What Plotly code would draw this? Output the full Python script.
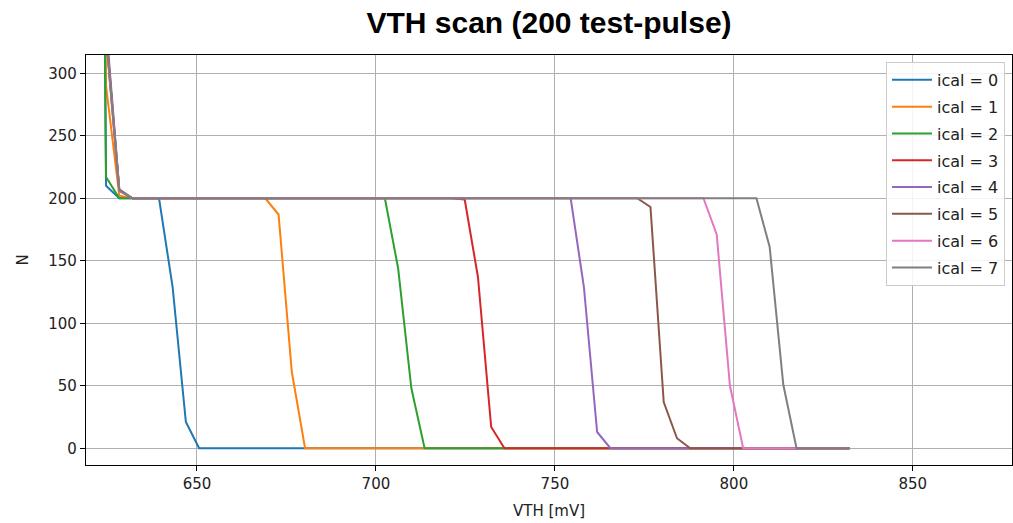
import plotly.graph_objects as go

# VTH sweep values [mV]
vth = [
    620.9, 624.6, 628.3, 632.0, 635.7, 639.4, 643.2, 646.9, 650.6, 654.3,
    658.0, 661.7, 665.4, 669.1, 672.8, 676.5, 680.2, 684.0, 687.7, 691.4,
    695.1, 698.8, 702.5, 706.2, 709.9, 713.6, 717.3, 721.0, 724.8, 728.5,
    732.2, 735.9, 739.6, 743.3, 747.0, 750.7, 754.4, 758.1, 761.8, 765.5,
    769.3, 773.0, 776.7, 780.4, 784.1, 787.8, 791.5, 795.2, 798.9, 802.6,
    806.3, 810.0, 813.8, 817.5, 821.2, 824.9, 828.6, 832.3,
]

ical_0 = [
    1500, 210, 200, 200, 200, 200, 129, 21, 0, 0,
    0, 0, 0, 0, 0, 0, 0, 0, 0, 0,
    0, 0, 0, 0, 0, 0, 0, 0, 0, 0,
    0, 0, 0, 0, 0, 0, 0, 0, 0, 0,
    0, 0, 0, 0, 0, 0, 0, 0, 0, 0,
    0, 0, 0, 0, 0, 0, 0, 0,
]
ical_1 = [
    1500, 290, 202, 200, 200, 200, 200, 200, 200, 200,
    200, 200, 200, 200, 187, 61, 0, 0, 0, 0,
    0, 0, 0, 0, 0, 0, 0, 0, 0, 0,
    0, 0, 0, 0, 0, 0, 0, 0, 0, 0,
    0, 0, 0, 0, 0, 0, 0, 0, 0, 0,
    0, 0, 0, 0, 0, 0, 0, 0,
]
ical_2 = [
    1500, 217, 200, 200, 200, 200, 200, 200, 200, 200,
    200, 200, 200, 200, 200, 200, 200, 200, 200, 200,
    200, 200, 200, 144, 48, 0, 0, 0, 0, 0,
    0, 0, 0, 0, 0, 0, 0, 0, 0, 0,
    0, 0, 0, 0, 0, 0, 0, 0, 0, 0,
    0, 0, 0, 0, 0, 0, 0, 0,
]
ical_3 = [
    1500, 330, 206, 200, 200, 200, 200, 200, 200, 200,
    200, 200, 200, 200, 200, 200, 200, 200, 200, 200,
    200, 200, 200, 200, 200, 200, 200, 200, 199, 137,
    17, 0, 0, 0, 0, 0, 0, 0, 0, 0,
    0, 0, 0, 0, 0, 0, 0, 0, 0, 0,
    0, 0, 0, 0, 0, 0, 0, 0,
]
ical_4 = [
    1500, 340, 207, 200, 200, 200, 200, 200, 200, 200,
    200, 200, 200, 200, 200, 200, 200, 200, 200, 200,
    200, 200, 200, 200, 200, 200, 200, 200, 200, 200,
    200, 200, 200, 200, 200, 200, 200, 129, 13, 0,
    0, 0, 0, 0, 0, 0, 0, 0, 0, 0,
    0, 0, 0, 0, 0, 0, 0, 0,
]
ical_5 = [
    1500, 335, 207, 200, 200, 200, 200, 200, 200, 200,
    200, 200, 200, 200, 200, 200, 200, 200, 200, 200,
    200, 200, 200, 200, 200, 200, 200, 200, 200, 200,
    200, 200, 200, 200, 200, 200, 200, 200, 200, 200,
    200, 200, 193, 37, 8, 0, 0, 0, 0, 0,
    0, 0, 0, 0, 0, 0, 0, 0,
]
ical_6 = [
    1500, 330, 206, 200, 200, 200, 200, 200, 200, 200,
    200, 200, 200, 200, 200, 200, 200, 200, 200, 200,
    200, 200, 200, 200, 200, 200, 200, 200, 200, 200,
    200, 200, 200, 200, 200, 200, 200, 200, 200, 200,
    200, 200, 200, 200, 200, 200, 200, 171, 50, 0,
    0, 0, 0, 0, 0, 0, 0, 0,
]
ical_7 = [
    1500, 330, 206, 200, 200, 200, 200, 200, 200, 200,
    200, 200, 200, 200, 200, 200, 200, 200, 200, 200,
    200, 200, 200, 200, 200, 200, 200, 200, 200, 200,
    200, 200, 200, 200, 200, 200, 200, 200, 200, 200,
    200, 200, 200, 200, 200, 200, 200, 200, 200, 200,
    200, 161, 51, 0, 0, 0, 0, 0,
]

series = [ical_0, ical_1, ical_2, ical_3, ical_4, ical_5, ical_6, ical_7]
names = [f"ical = {i}" for i in range(8)]
colors = ["#1f77b4", "#ff7f0e", "#2ca02c", "#d62728",
          "#9467bd", "#8c564b", "#e377c2", "#7f7f7f"]

x_ticks = [650, 700, 750, 800, 850]
y_ticks = [0, 50, 100, 150, 200, 250, 300]

fig = go.Figure()
for i, (ys, nm, c) in enumerate(zip(series, names, colors)):
    fig.add_trace(go.Scatter(
        x=vth, y=ys, mode="lines", name=nm, legendgroup=nm,
        line=dict(color=c, width=2),
    ))

axis_common = dict(
    showgrid=True, gridcolor="#b0b0b0", gridwidth=1,
    showline=True, linecolor="black", linewidth=1.2, mirror=True,
    ticks="outside", ticklen=5, tickcolor="black", tickwidth=1,
    zeroline=False,
    tickfont=dict(family="DejaVu Sans", size=15, color="#222"),
)

fig.update_layout(
    width=1013, height=523,
    margin=dict(l=86, r=1, t=55, b=58),
    paper_bgcolor="white", plot_bgcolor="white",
    title=dict(
        text="<b>VTH scan (200 test-pulse)</b>",
        font=dict(family="Liberation Sans, Arial", size=30, color="black"),
        x=0.5, xref="paper", xanchor="center",
        y=1 - 22 / 523, yref="container", yanchor="middle",
    ),
    xaxis=dict(
        range=[619.0, 877.7], tickvals=x_ticks,
        title=dict(text="VTH [mV]", standoff=13,
                   font=dict(family="DejaVu Sans", size=15, color="#222")),
        **axis_common,
    ),
    yaxis=dict(
        range=[-13.4, 314.6], tickvals=y_ticks,
        title=dict(text="N", standoff=16,
                   font=dict(family="DejaVu Sans", size=15, color="#222")),
        **axis_common,
    ),
    legend=dict(
        x=0.9924, y=0.983, xanchor="right", yanchor="top",
        bgcolor="rgba(255,255,255,0.85)", bordercolor="#cccccc", borderwidth=1,
        font=dict(family="DejaVu Sans", size=16, color="#222"),
        tracegroupgap=3, itemwidth=40,
    ),
    showlegend=True,
)

fig.write_html(
    "out.html",
    config={"displayModeBar": False},
    post_script="document.body.style.margin='0';document.body.style.padding='0';",
)
